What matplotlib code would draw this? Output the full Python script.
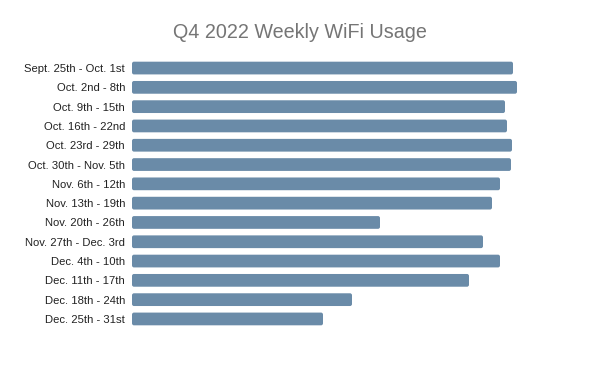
import matplotlib
matplotlib.use('Agg')
import matplotlib.pyplot as plt
from matplotlib.patches import FancyBboxPatch

plt.rcParams['font.family'] = ['Liberation Sans', 'DejaVu Sans']

weeks = ['Sept. 25th - Oct. 1st', 'Oct. 2nd - 8th', 'Oct. 9th - 15th',
         'Oct. 16th - 22nd', 'Oct. 23rd - 29th', 'Oct. 30th - Nov. 5th',
         'Nov. 6th - 12th', 'Nov. 13th - 19th', 'Nov. 20th - 26th',
         'Nov. 27th - Dec. 3rd', 'Dec. 4th - 10th', 'Dec. 11th - 17th',
         'Dec. 18th - 24th', 'Dec. 25th - 31st']
# no axis in the original, so these are read as relative lengths
usage = [381, 385, 373, 375, 380, 379, 368, 360, 248, 351, 368, 337, 220, 191]

bar_color = '#6a8ba8'
bar_h = 0.66

fig = plt.figure(figsize=(6, 3.71), dpi=100)
ax = fig.add_axes([132 / 600, 1 - 328.6 / 371, 400 / 600, 270.2 / 371])

for i, v in enumerate(usage):
    # slightly rounded bars like the original
    p = FancyBboxPatch((0, i - bar_h / 2), v, bar_h,
                       boxstyle='round,pad=0,rounding_size=2',
                       mutation_aspect=bar_h / 12.7,
                       facecolor=bar_color, edgecolor='none')
    ax.add_patch(p)

ax.set_xlim(0, 400)
ax.set_ylim(len(weeks) - 0.5, -0.5)
ax.set_yticks(range(len(weeks)))
ax.set_yticklabels(weeks, fontsize=8.1, color='#222222')
ax.set_xticks([])
ax.tick_params(axis='y', length=0, pad=5)
for s in ax.spines.values():
    s.set_visible(False)

fig.text(0.5, 1 - 32 / 371, 'Q4 2022 Weekly WiFi Usage', ha='center', va='center',
         fontsize=14.2, color='#757575')

fig.savefig('out.png', dpi=100)
